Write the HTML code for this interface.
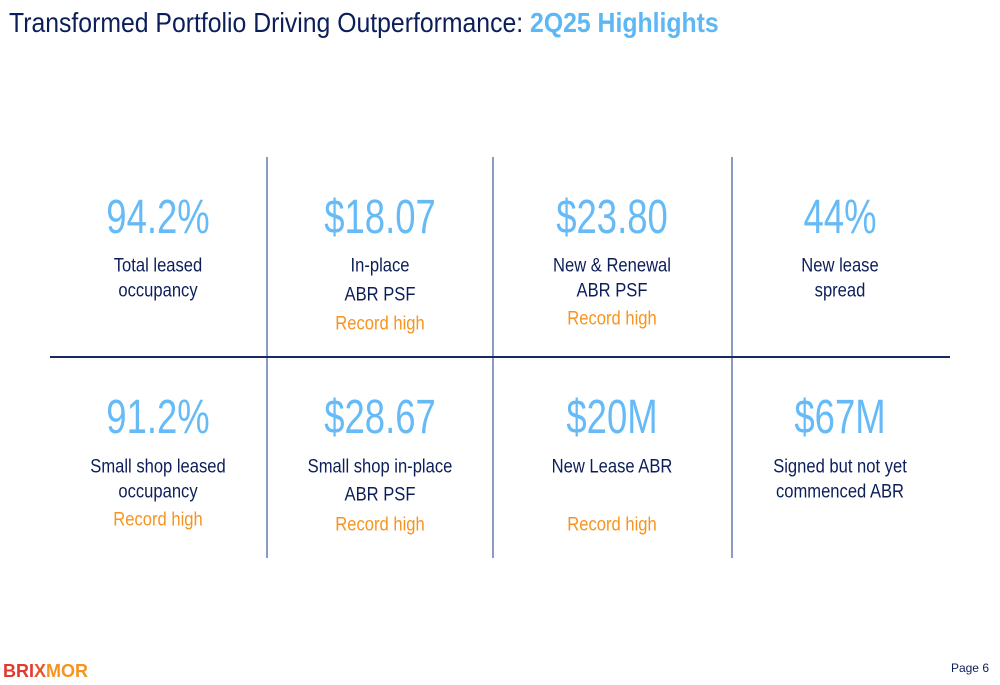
<!DOCTYPE html>
<html><head><meta charset="utf-8"><style>
body{margin:0;width:1000px;height:685px;background:#fff;position:relative;overflow:hidden;font-family:"Liberation Sans",Arial,sans-serif}
.t{position:absolute;white-space:nowrap;transform:translate(-50%,-50%) scaleX(0.85);line-height:1}
.big{font-size:48px;color:#66bbf7;transform:translate(-50%,-50%) scaleX(0.76)}
.lab{font-size:19.5px;color:#0c1e5a}
.or{font-size:19.5px;color:#f7931e}
.vl{position:absolute;top:157px;height:401px;width:1.5px;background:#8a9bc4}
</style></head><body>
<div style="position:absolute;left:9px;top:8px;font-size:28px;color:#0c1e5a;white-space:nowrap;transform:scaleX(0.885);transform-origin:left top;line-height:1.1">Transformed Portfolio Driving Outperformance: <b style="color:#5bb8f5">2Q25 Highlights</b></div>

<div class="vl" style="left:266px"></div>
<div class="vl" style="left:492px"></div>
<div class="vl" style="left:731px"></div>
<div style="position:absolute;left:50px;width:900px;top:356px;height:1.5px;background:#1a2a5e"></div>

<div class="t big" style="left:158px;top:218px">94.2%</div>
<div class="t lab" style="left:158px;top:266px">Total leased</div>
<div class="t lab" style="left:158px;top:291px">occupancy</div>

<div class="t big" style="left:380px;top:218px">$18.07</div>
<div class="t lab" style="left:380px;top:266px">In-place</div>
<div class="t lab" style="left:380px;top:295px">ABR PSF</div>
<div class="t or" style="left:380px;top:324px">Record high</div>

<div class="t big" style="left:612px;top:218px">$23.80</div>
<div class="t lab" style="left:612px;top:266px">New &amp; Renewal</div>
<div class="t lab" style="left:612px;top:291px">ABR PSF</div>
<div class="t or" style="left:612px;top:319px">Record high</div>

<div class="t big" style="left:840px;top:218px">44%</div>
<div class="t lab" style="left:840px;top:266px">New lease</div>
<div class="t lab" style="left:840px;top:291px">spread</div>

<div class="t big" style="left:158px;top:418px">91.2%</div>
<div class="t lab" style="left:158px;top:467px">Small shop leased</div>
<div class="t lab" style="left:158px;top:492px">occupancy</div>
<div class="t or" style="left:158px;top:520px">Record high</div>

<div class="t big" style="left:380px;top:418px">$28.67</div>
<div class="t lab" style="left:380px;top:467px">Small shop in-place</div>
<div class="t lab" style="left:380px;top:495px">ABR PSF</div>
<div class="t or" style="left:380px;top:525px">Record high</div>

<div class="t big" style="left:612px;top:418px">$20M</div>
<div class="t lab" style="left:612px;top:467px">New Lease ABR</div>
<div class="t or" style="left:612px;top:525px">Record high</div>

<div class="t big" style="left:840px;top:418px">$67M</div>
<div class="t lab" style="left:840px;top:467px">Signed but not yet</div>
<div class="t lab" style="left:840px;top:492px">commenced ABR</div>

<div style="position:absolute;left:3px;top:662px;font-size:18px;font-weight:bold;line-height:1"><span style="color:#e03a2f">BRI</span><span style="color:#e8552a">X</span><span style="color:#f7931e">MOR</span></div>
<div style="position:absolute;right:11px;top:661px;font-size:12px;color:#0c1e5a">Page 6</div>
</body></html>
